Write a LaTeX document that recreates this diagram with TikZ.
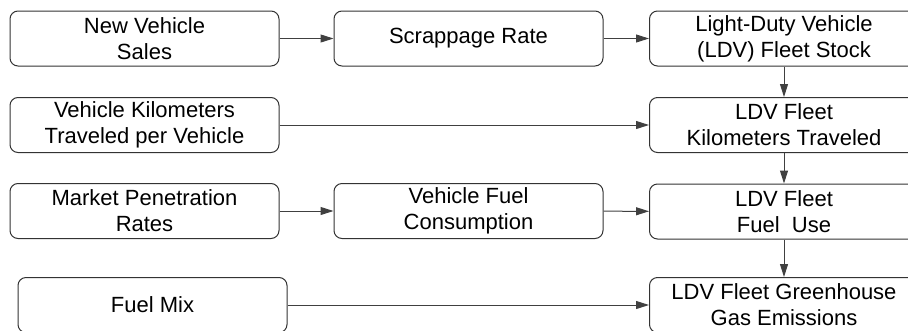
\documentclass[tikz,border=0pt]{standalone}
\usepackage{fontspec}
\setmainfont{Liberation Sans}
\usetikzlibrary{arrows.meta}
\begin{document}
\begin{tikzpicture}[x=1pt,y=-1pt,
  box/.style={draw=black!80, line width=1pt, rounded corners=8pt, minimum width=269pt, minimum height=55pt, inner sep=0pt, align=center, font=\fontsize{22}{26}\selectfont},
  conn/.style={draw=black!75, line width=1pt, -{Triangle[length=13pt,width=8pt]}}]
\useasboundingbox (0,0) rectangle (908,330);
\clip (0,0) rectangle (908,330);
\node[box] (A) at (144.5,38.5) {New Vehicle\\Sales};
\node[box] (B) at (468.5,38.5) {Scrappage Rate};
\node[box] (C) at (784,38.5) {Light-Duty Vehicle\\(LDV) Fleet Stock};
\node[box] (D) at (144.5,125) {Vehicle Kilometers\\Traveled per Vehicle};
\node[box] (E) at (784,125) {LDV Fleet\\Kilometers Traveled};
\node[box] (F) at (144.5,211) {Market Penetration\\Rates};
\node[box] (G) at (468.5,211) {Vehicle Fuel\\Consumption};
\node[box] (H) at (784,211.5) {LDV Fleet\\Fuel\ \ Use};
\node[box] (I) at (152.5,305) {Fuel Mix};
\node[box] (J) at (784,305) {LDV Fleet Greenhouse\\Gas Emissions};
\draw[conn] (A) -- (B);
\draw[conn] (B) -- (C);
\draw[conn] (C) -- (E);
\draw[conn] (D) -- (E);
\draw[conn] (E) -- (H);
\draw[conn] (F) -- (G);
\draw[conn] (G) -- (H);
\draw[conn] (H) -- (J);
\draw[conn] (I) -- (J);
\end{tikzpicture}
\end{document}
